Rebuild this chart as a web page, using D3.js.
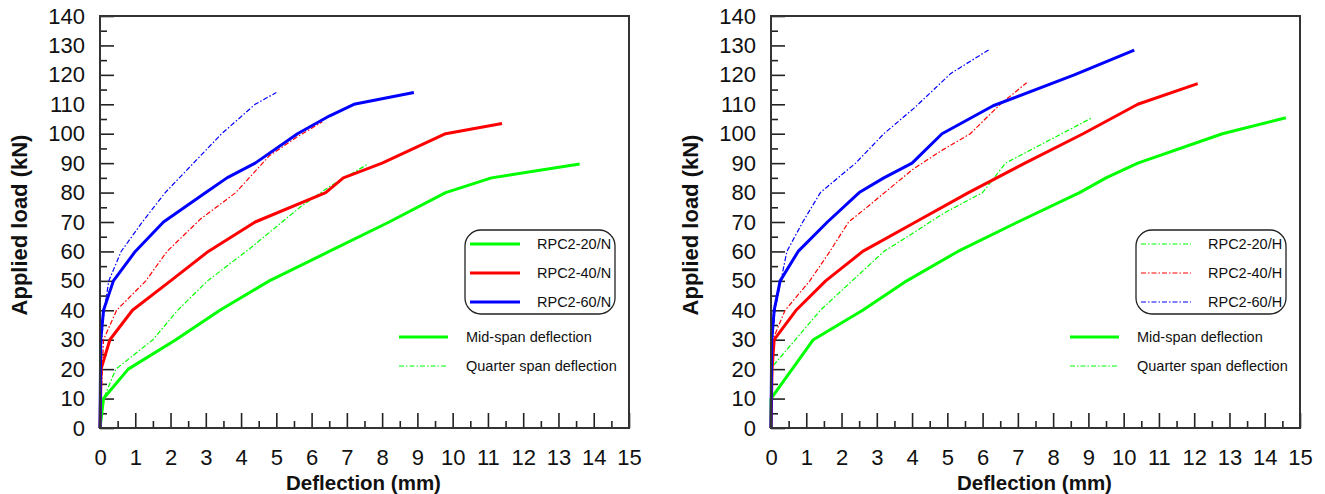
<!DOCTYPE html>
<html>
<head>
<meta charset="utf-8">
<script src="https://cdn.jsdelivr.net/npm/d3@7"></script>
<style>
  body { margin: 0; background: #fff; }
  svg { display: block; font-family: Arial, "Liberation Sans", sans-serif; }
</style>
</head>
<body>
<svg id="chart" width="1325" height="494"></svg>
<script>
// ---------- data (deflection mm, load kN) ----------
const xTicks = d3.range(0, 16, 1);
const yTicks = d3.range(0, 141, 10);
const xTitle = "Deflection (mm)";
const yTitle = "Applied load (kN)";

// Left panel: normal (N) – mid-span (solid) and quarter span (dash-dot)
const n20Mid = [[0,0],[0.1,10],[0.8,20],[2.15,30],[3.4,40],[4.8,50],[6.5,60],[8.2,70],[9.8,80],[11.1,85],[13.6,89.7]];
const n20Qtr = [[0,0],[0.1,10],[0.45,20],[1.5,30],[2.2,40],[3.05,50],[4.25,61],[5.67,75],[6.5,82],[7.6,89.7]];
const n40Mid = [[0,0],[0.03,20],[0.28,30],[0.92,40],[2.0,50],[3.07,60],[4.4,70],[6.4,80],[6.9,85],[8.0,90],[9.8,100],[11.4,103.5]];
const n40Qtr = [[0,0],[0.1,30],[0.47,40],[1.3,50],[1.9,60],[2.85,71],[3.85,80],[4.8,92.5],[5.6,99],[6.3,104]];
const n60Mid = [[0,0],[0.02,30],[0.1,40],[0.38,50],[1.0,60],[1.8,70],[3.0,80],[3.6,85],[4.4,90],[5.6,100],[6.5,106],[7.2,110],[8.9,114]];
const n60Qtr = [[0,0],[0.05,30],[0.12,40],[0.25,50],[0.6,60],[1.2,70],[1.85,80],[2.65,90],[3.45,100],[4.4,110],[5.0,114]];

// Right panel: (H) – mid-span (solid) and quarter span (dash-dot)
const h20Mid = [[0,0],[0,10],[1.2,30],[2.6,40],[3.85,50],[5.3,60],[7.0,70],[8.75,80],[9.5,85],[10.4,90],[12.8,100],[14.6,105.4]];
const h20Qtr = [[0,0],[0.05,21],[1.4,40],[3.2,60],[4.0,66],[4.9,73],[6.0,80],[6.65,90],[9.1,105.4]];
const h40Mid = [[0,0],[0.03,20],[0.09,30],[0.71,40],[1.55,50],[2.6,60],[4.1,70],[5.6,80],[7.2,90],[8.85,100],[10.4,110],[12.1,117]];
const h40Qtr = [[0,0],[0.05,30],[0.4,40],[1.1,50],[1.67,60],[2.2,70],[2.8,75.8],[4.0,87.7],[4.8,94],[5.65,100],[6.5,110],[7.25,117.3]];
const h60Mid = [[0,0],[0.02,30],[0.09,40],[0.26,50],[0.77,60],[1.6,70],[2.5,80],[3.2,85],[4.0,90],[4.85,100],[6.3,109.5],[8.6,120],[10.3,128.4]];
const h60Qtr = [[0,0],[0.05,30],[0.11,40],[0.28,50],[0.45,60],[0.9,70],[1.4,80],[2.4,90],[3.2,100],[4.05,108.6],[5.1,120.5],[6.2,128.7]];

const colors = ["#00ff00", "#ff0000", "#0000ff"];
const leftLegend = ["RPC2-20/N", "RPC2-40/N", "RPC2-60/N"];
const rightLegend = ["RPC2-20/H", "RPC2-40/H", "RPC2-60/H"];
const typeLegend = ["Mid-span deflection", "Quarter span deflection"];

// ---------- drawing ----------
const svg = d3.select("#chart");
const DASH = "5,2,1.5,2";

function panel(x0, mids, qtrs, legendLabels, legendDashed) {
  const W = 529, H = 412, top = 16;
  const g = svg.append("g").attr("transform", `translate(${x0},${top})`);
  const x = d3.scaleLinear().domain([0, 15]).range([0, W]);
  const y = d3.scaleLinear().domain([0, 140]).range([H, 0]);

  // minor ticks
  g.append("g").attr("transform", `translate(0,${H})`)
    .call(d3.axisBottom(x).tickValues(d3.range(0.5, 15, 1)).tickSize(-7).tickFormat(""))
    .call(a => a.select(".domain").remove())
    .call(a => a.selectAll("line").attr("stroke", "#222").attr("stroke-width", 1.6));
  g.append("g")
    .call(d3.axisLeft(y).tickValues(d3.range(5, 140, 10)).tickSize(-7).tickFormat(""))
    .call(a => a.select(".domain").remove())
    .call(a => a.selectAll("line").attr("stroke", "#222").attr("stroke-width", 1.6));

  // major ticks with labels
  g.append("g").attr("transform", `translate(0,${H})`)
    .call(d3.axisBottom(x).tickValues(xTicks).tickSize(-15).tickPadding(21).tickFormat(d3.format("d")))
    .call(a => a.select(".domain").remove())
    .call(a => a.selectAll("line").attr("stroke", "#222").attr("stroke-width", 1.6))
    .call(a => a.selectAll("text").attr("font-size", 22).attr("fill", "#111")
      .attr("font-family", "Arial, 'Liberation Sans', sans-serif"));
  g.append("g")
    .call(d3.axisLeft(y).tickValues(yTicks).tickSize(-14).tickPadding(15).tickFormat(d3.format("d")))
    .call(a => a.select(".domain").remove())
    .call(a => a.selectAll("line").attr("stroke", "#222").attr("stroke-width", 1.6))
    .call(a => a.selectAll("text").attr("font-size", 22).attr("fill", "#111")
      .attr("font-family", "Arial, 'Liberation Sans', sans-serif"));

  // series
  const line = d3.line().x(d => x(d[0])).y(d => y(d[1]));
  qtrs.forEach((s, i) => {
    g.append("path").datum(s).attr("d", line).attr("fill", "none")
      .attr("stroke", colors[i]).attr("stroke-width", 1.2).attr("stroke-dasharray", DASH);
  });
  mids.forEach((s, i) => {
    g.append("path").datum(s).attr("d", line).attr("fill", "none")
      .attr("stroke", colors[i]).attr("stroke-width", 3).attr("stroke-linejoin", "round");
  });

  // frame
  g.append("rect").attr("x", 0).attr("y", 0).attr("width", W).attr("height", H)
    .attr("fill", "none").attr("stroke", "#333").attr("stroke-width", 2);

  // axis titles
  g.append("text").attr("x", W / 2 - 1).attr("y", H + 62).attr("text-anchor", "middle")
    .attr("font-size", 20.5).attr("font-weight", "bold").attr("fill", "#111").text(xTitle);
  g.append("text").attr("transform", `translate(-73,${H / 2 + 3}) rotate(-90)`)
    .attr("text-anchor", "middle").attr("font-size", 22).attr("font-weight", "bold")
    .attr("fill", "#111").text(yTitle);

  // legend box
  g.append("rect").attr("x", 365).attr("y", 214).attr("width", 150).attr("height", 84)
    .attr("rx", 16).attr("ry", 16).attr("fill", "#fff").attr("stroke", "#222").attr("stroke-width", 1.3);
  legendLabels.forEach((lab, i) => {
    const ly = 228 + i * 29;
    const l = g.append("line").attr("x1", 370).attr("x2", 420).attr("y1", ly).attr("y2", ly)
      .attr("stroke", colors[i]);
    if (legendDashed) l.attr("stroke-width", 1.2).attr("stroke-dasharray", DASH);
    else l.attr("stroke-width", 3);
    g.append("text").attr("x", 437).attr("y", ly + 5).attr("font-size", 14.5).attr("fill", "#111").text(lab);
  });

  // line-type legend
  g.append("line").attr("x1", 299).attr("x2", 348).attr("y1", 321).attr("y2", 321)
    .attr("stroke", colors[0]).attr("stroke-width", 3);
  g.append("text").attr("x", 366).attr("y", 326).attr("font-size", 14.5).attr("fill", "#111").text(typeLegend[0]);
  g.append("line").attr("x1", 299).attr("x2", 348).attr("y1", 350).attr("y2", 350)
    .attr("stroke", colors[0]).attr("stroke-width", 1.2).attr("stroke-dasharray", DASH);
  g.append("text").attr("x", 366).attr("y", 355).attr("font-size", 14.5).attr("fill", "#111").text(typeLegend[1]);
}

panel(100, [n20Mid, n40Mid, n60Mid], [n20Qtr, n40Qtr, n60Qtr], leftLegend, false);
panel(771, [h20Mid, h40Mid, h60Mid], [h20Qtr, h40Qtr, h60Qtr], rightLegend, true);
</script>
</body>
</html>
